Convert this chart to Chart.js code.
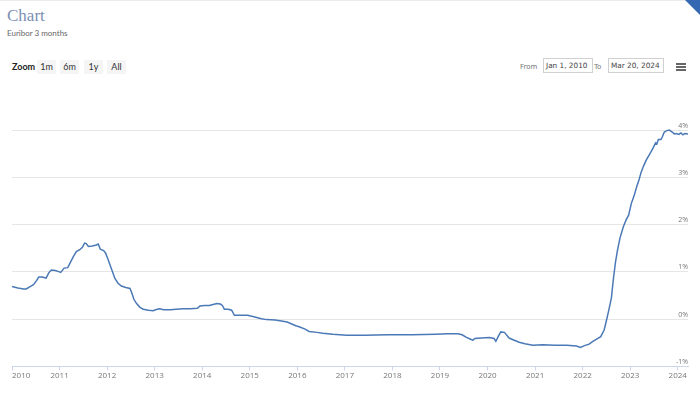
<!DOCTYPE html>
<html><head><meta charset="utf-8">
<script src="https://cdn.jsdelivr.net/npm/chart.js@4.4.1/dist/chart.umd.min.js"></script>
<style>
html,body{margin:0;padding:0;background:#fff;}
body{width:700px;height:393px;position:relative;overflow:hidden;}
.a{position:absolute;white-space:nowrap;}
#topline{left:0;top:0;width:700px;height:1px;background:#ececec;}
#corner{right:0;top:0;width:0;height:0;border-top:15px solid #3568b2;border-left:15px solid transparent;}
#title{left:7px;top:7px;font:17px/17px "Liberation Serif",serif;color:#7c8fb5;}
#sub{left:7px;top:29px;font:8px/8px Lato,sans-serif;color:#666;}
.btn{top:60px;height:14px;font:9px/14px Lato,sans-serif;color:#333;text-align:center;background:#f5f5f5;}
#zoomlbl{left:12px;top:60px;font:9px/14px Lato,sans-serif;color:#222;font-weight:bold;}
.lbl{top:60px;font:7px/14px "DejaVu Sans",sans-serif;color:#777;}
.inp{top:58px;height:13px;border:1px solid #d0d0d0;font:7.3px/13px "DejaVu Sans",sans-serif;color:#444;padding-left:2px;box-sizing:content-box;}
.hb{left:676px;width:10px;height:2px;background:#666;}
#c{position:absolute;left:0;top:0;}
</style></head>
<body>
<div class="a" id="topline"></div>
<div class="a" id="corner"></div>
<div class="a" id="title">Chart</div>
<div class="a" id="sub">Euribor 3 months</div>
<div class="a" id="zoomlbl">Zoom</div>
<div class="a btn" style="left:37px;width:19px">1m</div>
<div class="a btn" style="left:60px;width:19px">6m</div>
<div class="a btn" style="left:84px;width:19px">1y</div>
<div class="a btn" style="left:107px;width:19px">All</div>
<div class="a lbl" style="left:520px">From</div>
<div class="a inp" style="left:543px;width:46px">Jan 1, 2010</div>
<div class="a lbl" style="left:594px">To</div>
<div class="a inp" style="left:608px;width:52px">Mar 20, 2024</div>
<div class="a hb" style="top:63px"></div>
<div class="a hb" style="top:66px"></div>
<div class="a hb" style="top:69px"></div>
<canvas id="c" width="700" height="393"></canvas>
<script>
const dates = [
'2010-01-01','2010-02-15','2010-04-01','2010-04-20','2010-05-20','2010-06-15','2010-07-10','2010-07-25','2010-08-20','2010-09-20',
'2010-10-10','2010-10-30','2010-11-30','2010-12-20','2011-01-10','2011-02-05','2011-03-05','2011-04-01','2011-04-20','2011-05-10',
'2011-06-05','2011-06-25','2011-07-12','2011-07-25','2011-08-10','2011-09-10','2011-10-10','2011-10-25','2011-11-10','2011-12-05',
'2011-12-20','2012-01-10','2012-02-01','2012-03-01','2012-03-25','2012-04-20','2012-05-25','2012-06-25','2012-07-10','2012-07-25',
'2012-08-15','2012-09-10','2012-10-05','2012-11-15','2012-12-20','2013-01-20','2013-02-10','2013-03-10','2013-05-01','2013-06-15',
'2013-08-10','2013-10-01','2013-11-25','2013-12-15','2014-01-20','2014-02-25','2014-03-25','2014-04-25','2014-05-20','2014-06-05',
'2014-06-20','2014-07-20','2014-08-15','2014-09-05','2014-10-15','2014-12-15','2015-02-01','2015-04-01','2015-05-10','2015-07-15',
'2015-09-01','2015-10-15','2015-12-20','2016-01-15','2016-03-01','2016-04-01','2016-06-01','2016-07-15','2016-10-01','2017-01-15',
'2017-06-01','2017-12-01','2018-06-01','2018-12-01','2019-03-01','2019-05-20','2019-06-20','2019-07-20','2019-08-28','2019-09-10',
'2019-09-25','2019-11-15','2020-01-15','2020-02-20','2020-03-05','2020-03-25','2020-04-12','2020-05-10','2020-06-15','2020-07-20',
'2020-09-01','2020-10-15','2020-12-15','2021-03-01','2021-06-01','2021-09-01','2021-11-15','2021-12-15','2022-01-15','2022-02-20',
'2022-03-15','2022-04-15','2022-05-20','2022-06-15','2022-07-01','2022-07-20','2022-08-10','2022-08-25','2022-09-10','2022-09-25',
'2022-10-15','2022-11-10','2022-12-01','2022-12-20','2023-01-10','2023-02-01','2023-02-20','2023-03-10','2023-03-25','2023-04-15',
'2023-05-05','2023-06-01','2023-06-25','2023-07-15','2023-07-25','2023-08-05','2023-08-25','2023-09-05','2023-09-20','2023-10-10',
'2023-10-28','2023-11-20','2023-12-05','2023-12-20','2024-01-10','2024-01-25','2024-02-10','2024-02-25','2024-03-20'
];
const rates = [
0.69,0.66,0.64,0.64,0.69,0.73,0.82,0.89,0.89,0.87,
0.98,1.04,1.03,1.01,0.99,1.08,1.09,1.24,1.34,1.43,
1.47,1.52,1.61,1.60,1.54,1.55,1.57,1.59,1.48,1.45,
1.40,1.25,1.08,0.86,0.76,0.70,0.67,0.65,0.55,0.42,
0.33,0.25,0.21,0.19,0.18,0.21,0.22,0.20,0.20,0.21,
0.22,0.22,0.23,0.28,0.29,0.29,0.31,0.33,0.32,0.29,
0.21,0.21,0.19,0.08,0.08,0.08,0.05,0.01,-0.01,-0.02,
-0.04,-0.06,-0.14,-0.16,-0.21,-0.26,-0.28,-0.30,-0.32,-0.34,
-0.34,-0.33,-0.33,-0.32,-0.31,-0.31,-0.33,-0.38,-0.43,-0.45,
-0.41,-0.40,-0.39,-0.41,-0.47,-0.36,-0.27,-0.28,-0.40,-0.44,
-0.49,-0.52,-0.55,-0.54,-0.55,-0.55,-0.57,-0.60,-0.56,-0.53,
-0.48,-0.43,-0.37,-0.23,-0.05,0.18,0.45,0.85,1.20,1.45,
1.72,1.96,2.10,2.20,2.45,2.62,2.80,2.95,3.10,3.25,
3.37,3.50,3.62,3.73,3.71,3.80,3.80,3.86,3.96,3.99,
4.00,3.96,3.92,3.93,3.91,3.94,3.90,3.93,3.92
];
const yearTicks = [2010,2011,2012,2013,2014,2015,2016,2017,2018,2019,2020,2021,2022,2023,2024];
const pctTicks = [-1,0,1,2,3,4];
const rangeStart = '2010-01-01';
const rangeEnd = '2024-03-20';

function toYear(s){
  const [y,m,d] = s.split('-').map(Number);
  const t0 = Date.UTC(y,0,1), t1 = Date.UTC(y+1,0,1);
  return y + (Date.UTC(y,m-1,d)-t0)/(t1-t0);
}
const xMin = toYear(rangeStart), xMax = toYear(rangeEnd);
const points = dates.map((d,i)=>({x:toYear(d), y:rates[i]}));

new Chart(document.getElementById('c'), {
  type:'line',
  data:{datasets:[{data:points,borderColor:'#4a79b6',borderWidth:1.5,pointRadius:0,tension:0,fill:false}]},
  options:{
    responsive:false, animation:false, devicePixelRatio:1,
    layout:{padding:{left:12,right:12,top:106.5,bottom:11}},
    plugins:{legend:{display:false},tooltip:{enabled:false}},
    scales:{
      x:{type:'linear',min:xMin,max:xMax,
        afterBuildTicks:(s)=>{s.ticks = yearTicks.map(v=>({value:v})).concat([{value:xMax}]);},
        ticks:{autoSkip:false,maxRotation:0,align:'inner',padding:1,color:'#777',
          font:{family:'"Open Sans"',size:8},
          callback:(v)=>yearTicks.includes(v)?String(v):''},
        grid:{drawOnChartArea:false,tickLength:4,color:(c)=>c.tick&&yearTicks.includes(c.tick.value)?'#ccd6eb':'rgba(0,0,0,0)'},
        border:{display:true,color:'#ccd6eb'}
      },
      y:{type:'linear',position:'right',min:-1,max:4.5,
        afterBuildTicks:(s)=>{s.ticks = pctTicks.map(v=>({value:v}));},
        ticks:{mirror:true,padding:0,labelOffset:-4.5,color:'#777',
          font:{family:'"Open Sans"',size:7},
          callback:(v)=>v+'%'},
        grid:{color:'#e6e6e6',drawTicks:false},
        border:{display:false}
      }
    }
  }
});
</script>
</body></html>
